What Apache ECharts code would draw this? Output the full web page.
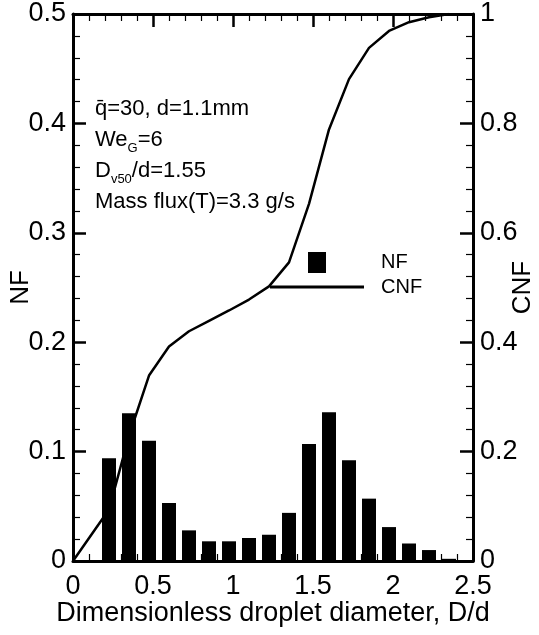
<!DOCTYPE html>
<html>
<head>
<meta charset="utf-8">
<title>NF / CNF</title>
<script src="https://cdn.jsdelivr.net/npm/echarts@6/dist/echarts.min.js"></script>
<style>
    html, body { margin: 0; padding: 0; background: #fff; }
    #chart { width: 539px; height: 635px; }
</style>
</head>
<body>
<div id="chart"></div>
<script>
    // 柱子：各粒径区间中心 和 数量分数 NF
    const binCenters = [0.225, 0.35, 0.475, 0.6, 0.725, 0.85, 0.975, 1.1, 1.225, 1.35, 1.475, 1.6, 1.725, 1.85, 1.975, 2.1, 2.225, 2.35]
    const nfValues = [0.094, 0.135, 0.110, 0.053, 0.028, 0.018, 0.018, 0.021, 0.024, 0.044, 0.107, 0.136, 0.092, 0.057, 0.031, 0.016, 0.010, 0.002]

    // 曲线：累计数量分数 CNF
    const cnfX = [0, 0.225, 0.35, 0.475, 0.6, 0.725, 0.85, 0.975, 1.1, 1.225, 1.35, 1.475, 1.6, 1.725, 1.85, 1.975, 2.1, 2.225, 2.35]
    const cnfValues = [0, 0.094, 0.229, 0.339, 0.392, 0.420, 0.439, 0.458, 0.478, 0.502, 0.546, 0.653, 0.789, 0.881, 0.938, 0.969, 0.985, 0.994, 1.0]

    // 坐标轴范围 [min, max, interval]
    const xRange = [0, 2.5, 0.5]
    const nfRange = [0, 0.5, 0.1]
    const cnfRange = [0, 1, 0.2]

    const annotationLines = [
        'q\u0304=30, d=1.1mm',
        'We{sub|G}=6',
        'D{sub|v50}/d=1.55',
        'Mass flux(T)=3.3 g/s'
    ]

    const font = 'Liberation Sans, Arial, sans-serif'
    const black = '#000'

    let myChart = echarts.init(document.getElementById('chart'), null, { renderer: 'canvas' })

    function axisBase() {
        return {
            type: 'value',
            nameMoveOverlap: false,
            axisLine: { show: true, onZero: false, lineStyle: { color: black, width: 3 } },
            axisTick: { show: true, inside: true, length: 13, lineStyle: { color: black, width: 2.5 } },
            minorTick: { show: true, splitNumber: 5, length: 7, lineStyle: { color: black, width: 1.2 } },
            splitLine: { show: false },
            minorSplitLine: { show: false },
            axisLabel: { color: black, fontFamily: font, fontSize: 27, margin: 7 }
        }
    }

    let bottomAxis = axisBase()
    Object.assign(bottomAxis, {
        position: 'bottom',
        min: xRange[0], max: xRange[1], interval: xRange[2],
        name: 'Dimensionless droplet diameter, D/d',
        nameLocation: 'middle',
        nameGap: 39,
        nameTextStyle: { color: black, fontFamily: font, fontSize: 27 }
    })
    bottomAxis.axisLabel = Object.assign({}, bottomAxis.axisLabel, { margin: 12 })

    let topAxis = axisBase()
    Object.assign(topAxis, {
        position: 'top',
        min: xRange[0], max: xRange[1], interval: xRange[2]
    })
    topAxis.axisLabel = { show: false }

    let leftAxis = axisBase()
    Object.assign(leftAxis, {
        position: 'left',
        min: nfRange[0], max: nfRange[1], interval: nfRange[2],
        name: 'NF',
        nameLocation: 'middle',
        nameGap: 39,
        nameTextStyle: { color: black, fontFamily: font, fontSize: 26 }
    })

    let rightAxis = axisBase()
    Object.assign(rightAxis, {
        position: 'right',
        min: cnfRange[0], max: cnfRange[1], interval: cnfRange[2],
        name: 'CNF',
        nameLocation: 'middle',
        nameGap: 37,
        nameTextStyle: { color: black, fontFamily: font, fontSize: 26 }
    })

    let option = {
        backgroundColor: '#fff',
        animation: false,
        grid: { left: 73, right: 66, top: 14, bottom: 74, containLabel: false, outerBoundsMode: 'none' },
        xAxis: [bottomAxis, topAxis],
        yAxis: [leftAxis, rightAxis],
        legend: [{
            data: [{ name: 'NF', icon: 'rect' }],
            left: 303, top: 247,
            itemWidth: 18, itemHeight: 21,
            textStyle: { color: black, fontFamily: font, fontSize: 20, padding: [0, 0, 0, 50] }
        }, {
            data: [{ name: 'CNF', icon: 'rect' }],
            left: 265, top: 272,
            itemWidth: 94, itemHeight: 3,
            textStyle: { color: black, fontFamily: font, fontSize: 20, padding: [0, 0, 0, 12] }
        }],
        graphic: [{
            type: 'text',
            left: 95, top: 93,
            style: {
                text: annotationLines.join('\n'),
                fill: black,
                font: '22px ' + font,
                lineHeight: 31,
                rich: {
                    sub: { fontSize: 13, fontFamily: font, fill: black, verticalAlign: 'bottom', lineHeight: 14 }
                }
            }
        }],
        series: [{
            name: 'NF',
            type: 'bar',
            xAxisIndex: 0,
            yAxisIndex: 0,
            barWidth: 14,
            itemStyle: { color: black },
            data: binCenters.map((x, i) => [x, nfValues[i]])
        }, {
            name: 'CNF',
            type: 'line',
            xAxisIndex: 0,
            yAxisIndex: 1,
            showSymbol: false,
            symbol: 'none',
            itemStyle: { color: black },
            lineStyle: { color: black, width: 2.5 },
            data: cnfX.map((x, i) => [x, cnfValues[i]])
        }]
    }

    myChart.setOption(option)
</script>
</body>
</html>
